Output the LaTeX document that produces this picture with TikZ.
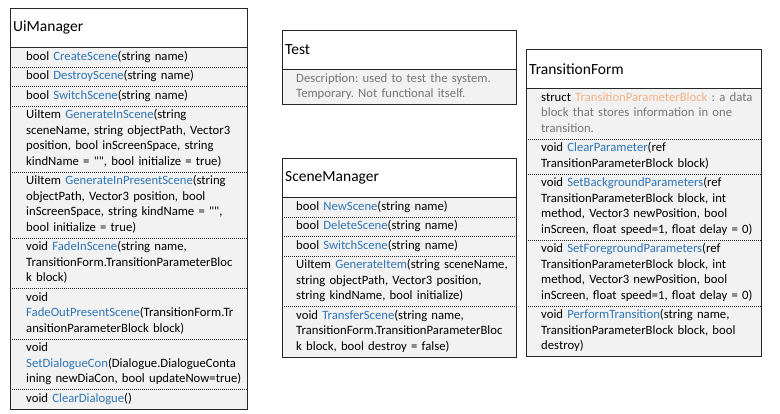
\documentclass[tikz,border=0pt]{standalone}
\usepackage{fontspec}
\setmainfont{Carlito}[Ligatures=TeXOff]
\usetikzlibrary{positioning,backgrounds}

\definecolor{fnblue}{RGB}{46,117,182}
\definecolor{structorange}{RGB}{244,177,131}
\definecolor{notegray}{RGB}{118,118,118}
\definecolor{bodygray}{RGB}{242,242,242}
\definecolor{framegray}{RGB}{38,38,38}

\newcommand\fn[1]{\textcolor{fnblue}{#1}}
\newcommand\rowfont{\fontsize{12.7}{15.5}\selectfont}
\newcommand\hdrfont{\fontsize{15.5}{18}\selectfont}
\frenchspacing

\tikzset{
  clshead/.style={anchor=north west,minimum height=39pt,inner xsep=3pt,inner ysep=0pt,align=left,font=\hdrfont,text width=#1},
  clsrow/.style={inner xsep=0pt,inner ysep=1.8pt,align=left,font=\rowfont,text width=#1,
    execute at begin node=\strut,execute at end node=\strut},
  rowsep/.style={draw=framegray,line width=0.6pt,dash pattern=on 1pt off 1pt},
  clsframe/.style={draw=framegray,line width=0.8pt},
}

\begin{document}
\begin{tikzpicture}[x=1pt,y=1pt]
\useasboundingbox (0,0) rectangle (780,-413);

% UiManager
\node [clshead=231pt] (ui) at (10,-8) {UiManager};
\node [clsrow=221pt,below right=0pt and 16pt of ui.south west] (ui1) {bool \fn{CreateScene}(string name)};
\node [clsrow=221pt,below=0pt of ui1] (ui2) {bool \fn{DestroyScene}(string name)};
\node [clsrow=221pt,below=0pt of ui2] (ui3) {bool \fn{SwitchScene}(string name)};
\node [clsrow=221pt,below=0pt of ui3] (ui4) {UiItem \fn{GenerateInScene}(string\\ sceneName, string objectPath, Vector3\\ position, bool inScreenSpace, string\\ kindName = "", bool initialize = true)};
\node [clsrow=221pt,below=0pt of ui4] (ui5) {UiItem \fn{GenerateInPresentScene}(string\\ objectPath, Vector3 position, bool\\ inScreenSpace, string kindName = "",\\ bool initialize = true)};
\node [clsrow=221pt,below=0pt of ui5] (ui6) {void \fn{FadeInScene}(string name,\\ TransitionForm.TransitionParameterBloc\\ k block)};
\node [clsrow=221pt,below=0pt of ui6] (ui7) {void\\ \fn{FadeOutPresentScene}(TransitionForm.Tr\\ ansitionParameterBlock block)};
\node [clsrow=221pt,below=0pt of ui7] (ui8) {void\\ \fn{SetDialogueCon}(Dialogue.DialogueConta\\ ining newDiaCon, bool updateNow=true)};
\node [clsrow=221pt,below=0pt of ui8] (ui9) {void \fn{ClearDialogue}()};
\foreach \r in {1,...,8}
  \draw[rowsep] (ui\r.south -| ui.west) -- (ui\r.south -| ui.east);
\draw[clsframe] (ui.north west) rectangle (ui9.south -| ui.east);
\draw[clsframe] (ui.south west) -- (ui.south east);

% Test
\node [clshead=228pt] (test) at (282,-30) {Test};
\node [clsrow=220pt,below right=0pt and 14pt of test.south west,text=notegray] (test1) {Description: used to test the system.\\ Temporary. Not functional itself.};
\draw[clsframe] (test.north west) rectangle (test1.south -| test.east);
\draw[clsframe] (test.south west) -- (test.south east);

% SceneManager
\node [clshead=228pt] (scene) at (282,-158) {SceneManager};
\node [clsrow=220pt,below right=0pt and 14pt of scene.south west] (scene1) {bool \fn{NewScene}(string name)};
\node [clsrow=220pt,below=0pt of scene1] (scene2) {bool \fn{DeleteScene}(string name)};
\node [clsrow=220pt,below=0pt of scene2] (scene3) {bool \fn{SwitchScene}(string name)};
\node [clsrow=220pt,below=0pt of scene3] (scene4) {UiItem \fn{GenerateItem}(string sceneName,\\ string objectPath, Vector3 position,\\ string kindName, bool initialize)};
\node [clsrow=220pt,below=0pt of scene4] (scene5) {void \fn{TransferScene}(string name,\\ TransitionForm.TransitionParameterBloc\\ k block, bool destroy = false)};
\foreach \r in {1,...,4}
  \draw[rowsep] (scene\r.south -| scene.west) -- (scene\r.south -| scene.east);
\draw[clsframe] (scene.north west) rectangle (scene5.south -| scene.east);
\draw[clsframe] (scene.south west) -- (scene.south east);

% TransitionForm
\node [clshead=229pt] (trans) at (526,-49) {TransitionForm};
\node [clsrow=220pt,below right=0pt and 15pt of trans.south west] (trans1) {struct \textcolor{structorange}{TransitionParameterBlock} \textcolor{notegray}{: a data\\ block that stores information in one\\ transition.}};
\node [clsrow=220pt,below=0pt of trans1] (trans2) {void \fn{ClearParameter}(ref\\ TransitionParameterBlock block)};
\node [clsrow=220pt,below=0pt of trans2] (trans3) {void \fn{SetBackgroundParameters}(ref\\ TransitionParameterBlock block, int\\ method, Vector3 newPosition, bool\\ inScreen, float speed=1, float delay = 0)};
\node [clsrow=220pt,below=0pt of trans3] (trans4) {void \fn{SetForegroundParameters}(ref\\ TransitionParameterBlock block, int\\ method, Vector3 newPosition, bool\\ inScreen, float speed=1, float delay = 0)};
\node [clsrow=220pt,below=0pt of trans4] (trans5) {void \fn{PerformTransition}(string name,\\ TransitionParameterBlock block, bool\\ destroy)};
\foreach \r in {1,...,4}
  \draw[rowsep] (trans\r.south -| trans.west) -- (trans\r.south -| trans.east);
\draw[clsframe] (trans.north west) rectangle (trans5.south -| trans.east);
\draw[clsframe] (trans.south west) -- (trans.south east);

\begin{scope}[on background layer]
  \fill[white] (0,0) rectangle (780,-413);
  \fill[bodygray] (ui.south west) rectangle (ui9.south -| ui.east);
  \fill[bodygray] (test.south west) rectangle (test1.south -| test.east);
  \fill[bodygray] (scene.south west) rectangle (scene5.south -| scene.east);
  \fill[bodygray] (trans.south west) rectangle (trans5.south -| trans.east);
\end{scope}
\end{tikzpicture}
\end{document}
